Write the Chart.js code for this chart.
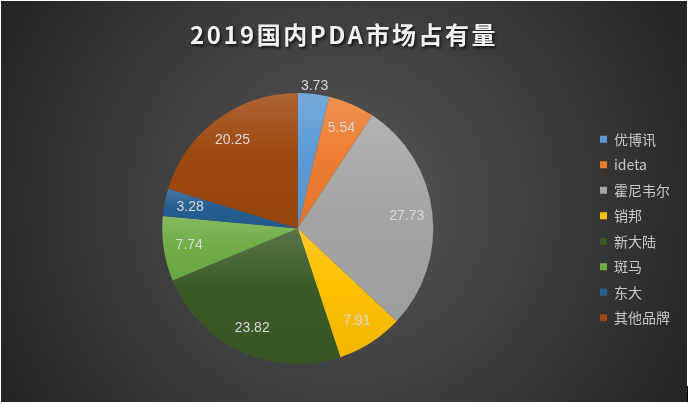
<!DOCTYPE html>
<html>
<head>
<meta charset="utf-8">
<script src="https://cdn.jsdelivr.net/npm/chart.js@4"></script>
<style>
  html, body { margin: 0; padding: 0; background: #ffffff; }
  canvas { display: block; }
</style>
</head>
<body>
<canvas id="pdaChart" width="690" height="404"></canvas>
<script>
// data
const brands = ["优博讯", "ideta", "霍尼韦尔", "销邦", "新大陆", "斑马", "东大", "其他品牌"];
const shares = [3.73, 5.54, 27.73, 7.91, 23.82, 7.74, 3.28, 20.25];
const sliceColors = ["#5b9bd5", "#ed7d31", "#a5a5a5", "#ffc000", "#3b5a26", "#70ad47", "#255e91", "#9e480e"];
const chartTitle = "2019国内PDA市场占有量";

function shade(hex, amt) {
    let n = parseInt(hex.slice(1), 16);
    let r = (n >> 16) & 255, g = (n >> 8) & 255, b = n & 255;
    let f = c => Math.round(amt >= 0 ? c + (255 - c) * amt : c * (1 + amt));
    return "rgb(" + f(r) + "," + f(g) + "," + f(b) + ")";
}

// vertical gradient over each slice's own bounding box
function sliceFill(context) {
    let i = context.dataIndex;
    let base = sliceColors[i];
    let area = context.chart.chartArea;
    if (!area) return base;
    let cx = (area.left + area.right) / 2;
    let cy = (area.top + area.bottom) / 2;
    let r = Math.min(area.right - area.left, area.bottom - area.top) / 2;
    let total = shares.reduce((a, b) => a + b, 0);
    let before = shares.slice(0, i).reduce((a, b) => a + b, 0);
    let a0 = -Math.PI / 2 + before / total * Math.PI * 2;
    let a1 = a0 + shares[i] / total * Math.PI * 2;
    let ys = [cy, cy + r * Math.sin(a0), cy + r * Math.sin(a1)];
    [-Math.PI / 2, Math.PI / 2, Math.PI * 1.5].forEach(a => {
        if (a > a0 && a < a1) ys.push(cy + r * Math.sin(a));
    });
    let y0 = Math.min(...ys), y1 = Math.max(...ys);
    if (y1 - y0 < 1) return base;
    let g = context.chart.ctx.createLinearGradient(0, y0, 0, y1);
    g.addColorStop(0, shade(base, 0.16));
    g.addColorStop(0.45, base);
    g.addColorStop(1, shade(base, -0.05));
    return g;
}

const backdrop = {
    id: "backdrop",
    beforeDraw(chart) {
        let c = chart.ctx;
        c.save();
        c.fillStyle = "#ffffff";
        c.fillRect(0, 0, chart.width, chart.height);
        let g = c.createRadialGradient(344, 202, 0, 344, 202, 400);
        g.addColorStop(0, "#585858");
        g.addColorStop(1, "#232323");
        c.fillStyle = g;
        c.fillRect(1, 1, 686, 401);
        c.strokeStyle = "#000000";
        c.lineWidth = 1;
        c.beginPath();
        c.moveTo(687.5, 386);
        c.lineTo(687.5, 402);
        c.stroke();
        c.restore();
    }
};

const titleText = {
    id: "titleText",
    afterDraw(chart) {
        let c = chart.ctx;
        c.save();
        c.font = "bold 24px 'Noto Sans CJK SC', 'DejaVu Sans', sans-serif";
        if ("letterSpacing" in c) c.letterSpacing = "2.5px";
        c.textAlign = "center";
        c.textBaseline = "middle";
        c.shadowColor = "rgba(0,0,0,0.7)";
        c.shadowOffsetX = 1.5;
        c.shadowOffsetY = 1.5;
        c.shadowBlur = 3;
        c.fillStyle = "#f2f2f2";
        c.fillText(chartTitle, 344, 35);
        c.restore();
    }
};

const sliceLabels = {
    id: "sliceLabels",
    afterDatasetsDraw(chart, args, opts) {
        let c = chart.ctx;
        let meta = chart.getDatasetMeta(0);
        c.save();
        c.font = "14px 'Liberation Sans', Arial, sans-serif";
        c.fillStyle = "#d9d9d9";
        c.textAlign = "center";
        c.textBaseline = "middle";
        meta.data.forEach((arc, i) => {
            let p = arc.getProps(["x", "y", "startAngle", "endAngle", "outerRadius"], true);
            let mid = (p.startAngle + p.endAngle) / 2;
            let k = opts.outside.includes(i) ? 1.06 : 0.81;
            c.fillText(shares[i].toFixed(2), p.x + Math.cos(mid) * p.outerRadius * k, p.y + Math.sin(mid) * p.outerRadius * k);
        });
        c.restore();
    }
};

let ctx = document.getElementById("pdaChart").getContext("2d");
let pdaChart = new Chart(ctx, {
    type: "pie",
    data: {
        labels: brands,
        datasets: [
            {
                data: shares,
                backgroundColor: sliceFill,
                borderWidth: 0,
            },
        ],
    },
    options: {
        responsive: false,
        animation: false,
        layout: {
            padding: { left: 7, right: 10, top: 93, bottom: 40 },
        },
        plugins: {
            title: { display: false },
            tooltip: { enabled: false },
            legend: {
                position: "right",
                labels: {
                    boxWidth: 7,
                    boxHeight: 7,
                    padding: 11.5,
                    color: "#c8c8c8",
                    font: { size: 14, family: "'Noto Sans CJK SC', 'Liberation Sans', sans-serif" },
                    generateLabels(chart) {
                        return brands.map((b, i) => ({
                            text: b,
                            fillStyle: sliceColors[i],
                            strokeStyle: sliceColors[i],
                            lineWidth: 0,
                            fontColor: "#c8c8c8",
                            index: i,
                        }));
                    },
                },
            },
            sliceLabels: { outside: [0] },
        },
    },
    plugins: [backdrop, titleText, sliceLabels],
});
</script>
</body>
</html>
